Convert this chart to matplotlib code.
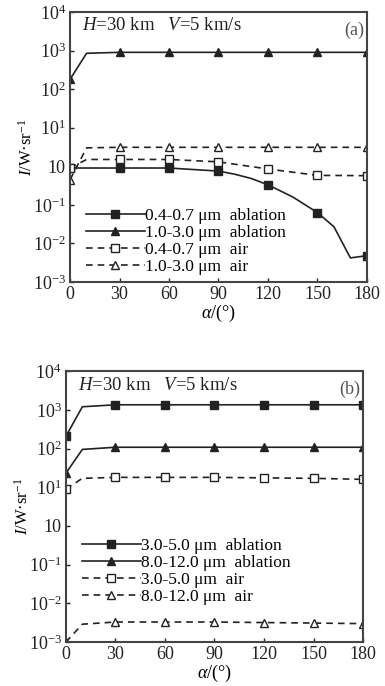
import matplotlib
matplotlib.use("Agg")
import matplotlib.pyplot as plt
from matplotlib.ticker import FixedLocator, NullLocator

plt.rcParams['font.family'] = ['Liberation Serif', 'DejaVu Serif']
plt.rcParams['mathtext.fontset'] = 'custom'
plt.rcParams['mathtext.rm'] = 'Liberation Serif'
plt.rcParams['mathtext.it'] = 'Liberation Serif:italic'

# ---- data panel (a) ----
a_x_abl1 = [0, 30, 60, 90, 100, 110, 120, 135, 150, 160, 170, 180]
a_y_abl1 = [0.9, 0.9, 0.9, 0.75, 0.62, 0.48, 0.33, 0.16, 0.063, 0.027, 0.0042, 0.0048]
a_m_abl1 = [0, 1, 2, 3, 6, 8, 11]

a_x_abl2 = [0, 10, 30, 60, 90, 120, 150, 180]
a_y_abl2 = [180, 850, 900, 900, 900, 900, 900, 900]
a_m_abl2 = [0, 2, 3, 4, 5, 6, 7]

a_x_air1 = [0, 10, 30, 60, 90, 120, 150, 180]
a_y_air1 = [0.9, 1.5, 1.5, 1.5, 1.3, 0.85, 0.58, 0.57]
a_m_air1 = [0, 2, 3, 4, 5, 6, 7]

a_x_air2 = [0, 10, 30, 60, 90, 120, 150, 180]
a_y_air2 = [0.45, 3.0, 3.1, 3.1, 3.1, 3.1, 3.1, 3.1]
a_m_air2 = [0, 2, 3, 4, 5, 6, 7]

a_labels = ["0.4-0.7 μm  ablation", "1.0-3.0 μm  ablation",
            "0.4-0.7 μm  air", "1.0-3.0 μm  air"]

# ---- data panel (b) ----
b_x = [0, 10, 30, 60, 90, 120, 150, 180]
b_m = [0, 2, 3, 4, 5, 6, 7]
b_y_abl1 = [205, 1200, 1350, 1350, 1350, 1350, 1350, 1350]
b_y_abl2 = [23, 95, 108, 108, 108, 108, 108, 108]
b_y_air1 = [9.0, 17, 18, 18, 18, 17.5, 17, 16]
b_y_air2 = [0.001, 0.0029, 0.0033, 0.0033, 0.0033, 0.0032, 0.0031, 0.003]

b_labels = ["3.0-5.0 μm  ablation", "8.0-12.0 μm  ablation",
            "3.0-5.0 μm  air", "8.0-12.0 μm  air"]

ytick_vals = [1e-3, 1e-2, 1e-1, 1, 1e1, 1e2, 1e3, 1e4]
ytick_labels = [r"$10^{-3}$", r"$10^{-2}$", r"$10^{-1}$", "10",
                r"$10^{1}$", r"$10^{2}$", r"$10^{3}$", r"$10^{4}$"]
xtick_vals = [0, 30, 60, 90, 120, 150, 180]

C = '#222222'

fig = plt.figure(figsize=(3.85, 6.86), dpi=100)
axa = fig.add_axes([0.182, 0.589, 0.771, 0.3935])
axb = fig.add_axes([0.171, 0.064, 0.772, 0.395])


def style(ax, tag):
    ax.set_yscale('log')
    ax.set_xlim(0, 180)
    ax.set_ylim(1e-3, 1e4)
    ax.yaxis.set_major_locator(FixedLocator(ytick_vals))
    ax.yaxis.set_minor_locator(NullLocator())
    ax.set_yticklabels(ytick_labels)
    ax.set_xticks(xtick_vals)
    ax.tick_params(direction='in', length=3, width=1, labelsize=13, colors=C,
                   top=False, right=False, pad=3)
    for s in ax.spines.values():
        s.set_linewidth(1.5)
        s.set_color('#444444')
    ax.set_xlabel(r"$\alpha$/(°)", fontsize=13, labelpad=0)
    ax.set_ylabel(r"$I$/W·sr$^{-1}$", fontsize=12, labelpad=-2)
    ax.text(0.04, 0.98, r"$H$=30 km   $V$=5 km/s", transform=ax.transAxes,
            fontsize=13.5, va='top', ha='left', color=C)
    ax.text(0.99, 0.965, tag, transform=ax.transAxes, fontsize=13,
            va='top', ha='right', color='#555555')


def leg(ax, loc):
    ax.legend(loc='lower left', bbox_to_anchor=loc, frameon=False, fontsize=12.5,
              handlelength=3.4, handletextpad=0.0, labelspacing=0.05,
              borderaxespad=0)


kw_s = dict(color=C, lw=1.2, ms=5.5)
axa.plot(a_x_abl1, a_y_abl1, '-', marker='s', markevery=a_m_abl1, label=a_labels[0], **kw_s)
axa.plot(a_x_abl2, a_y_abl2, '-', marker='^', markevery=a_m_abl2, label=a_labels[1], **kw_s)
axa.plot(a_x_air1, a_y_air1, '--', marker='s', markevery=a_m_air1, mfc='white',
         label=a_labels[2], dashes=(4, 3), **kw_s)
axa.plot(a_x_air2, a_y_air2, '--', marker='^', markevery=a_m_air2, mfc='white',
         label=a_labels[3], dashes=(4, 3), **kw_s)
style(axa, "(a)")
leg(axa, (0.03, 0.0))

axb.plot(b_x, b_y_abl1, '-', marker='s', markevery=b_m, label=b_labels[0], **kw_s)
axb.plot(b_x, b_y_abl2, '-', marker='^', markevery=b_m, label=b_labels[1], **kw_s)
axb.plot(b_x, b_y_air1, '--', marker='s', markevery=b_m, mfc='white',
         label=b_labels[2], dashes=(4, 3), **kw_s)
axb.plot(b_x, b_y_air2, '--', marker='^', markevery=b_m, mfc='white',
         label=b_labels[3], dashes=(4, 3), **kw_s)
style(axb, "(b)")
leg(axb, (0.03, 0.11))

fig.savefig("out.png", dpi=100)
